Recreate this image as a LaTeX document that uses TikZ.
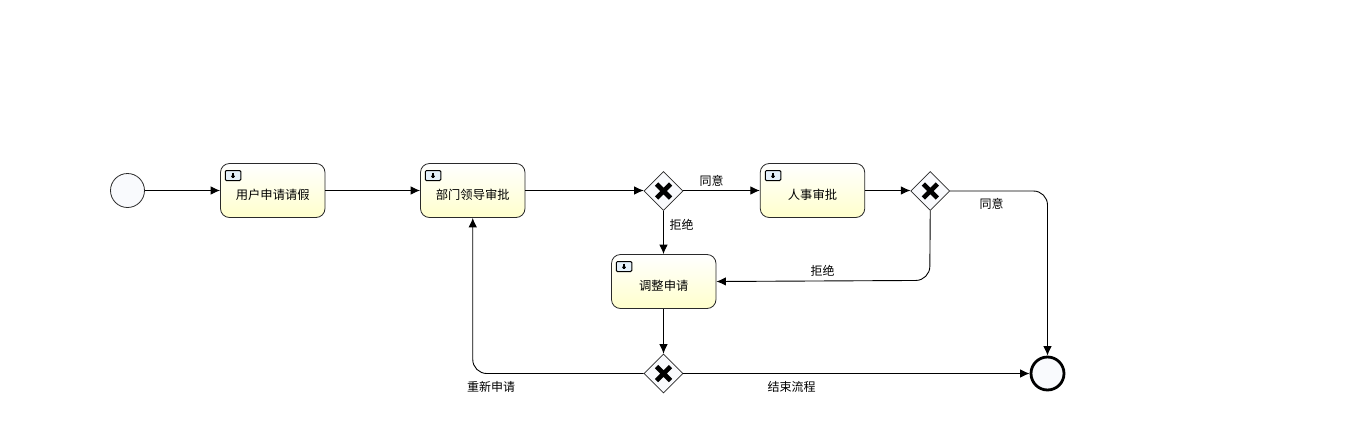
\documentclass[tikz,border=0pt]{standalone}
\usepackage{fontspec}
\setmainfont{Noto Sans CJK SC}
\usetikzlibrary{shapes.geometric,arrows.meta,calc}
\definecolor{evfill}{HTML}{F9FAFD}
\definecolor{taskbot}{HTML}{FFFFCC}
\definecolor{edgegray}{HTML}{2A2A2A}
\definecolor{iconfill}{HTML}{E4F0FA}
\newcommand{\tasktext}[1]{\raisebox{-8.5pt}[0pt][0pt]{#1}}
\tikzset{
  x=1pt,y=-1pt,
  startev/.style={circle,draw=edgegray,line width=0.8pt,fill=evfill,minimum size=34pt,inner sep=0pt},
  endev/.style={circle,draw=black,line width=2.8pt,fill=evfill,minimum size=33pt,inner sep=0pt},
  taskbox/.style={rectangle,rounded corners=9pt,draw=edgegray,line width=0.8pt,top color=white,bottom color=taskbot,minimum width=104.5pt,minimum height=54pt,inner sep=0pt,font=\fontsize{12.3}{12.3}\selectfont},
  gate/.style={diamond,draw=edgegray,line width=0.6pt,fill=evfill,minimum width=39pt,minimum height=39pt,inner sep=0pt,
    path picture={\draw[line width=4.6pt,black] ($(path picture bounding box.center)+(-7,-7)$) -- ($(path picture bounding box.center)+(7,7)$) ($(path picture bounding box.center)+(-7,7)$) -- ($(path picture bounding box.center)+(7,-7)$);}},
  flow/.style={draw=black,line width=0.9pt,-{Latex[length=9.5pt,width=8.5pt]}},
  flowlabel/.style={inner sep=0pt,font=\fontsize{12}{12}\selectfont},
  iconbox/.style={rectangle,rounded corners=1.2pt,draw=black,line width=1pt,fill=iconfill,minimum width=15.5pt,minimum height=10pt,inner sep=0pt,
    path picture={\fill[black] ($(path picture bounding box.center)+(-2.6,0)$) -- ($(path picture bounding box.center)+(2.6,0)$) -- ($(path picture bounding box.center)+(0,3.2)$) -- cycle;
    \draw[black,line width=1.4pt] ($(path picture bounding box.center)+(0,-3)$) -- ($(path picture bounding box.center)+(0,0.5)$);}}
}
\begin{document}
\begin{tikzpicture}
\useasboundingbox (0,0) rectangle (1361,437);
\fill[white] (0,0) rectangle (1361,437);
\node[startev] (start) at (127.5,190.5) {};
\node[taskbox] (t1) at (272.75,190.5) {\tasktext{用户申请请假}};
\node[taskbox] (t2) at (472.75,190.5) {\tasktext{部门领导审批}};
\node[taskbox] (t3) at (812.5,190.5) {\tasktext{人事审批}};
\node[taskbox] (t4) at (663.75,281.5) {\tasktext{调整申请}};
\node[iconbox] (i1) at (233,175.5) {};
\node[iconbox] (i2) at (433,175.5) {};
\node[iconbox] (i3) at (773,175.5) {};
\node[iconbox] (i4) at (624,266.5) {};
\node[gate] (g1) at (663.5,191) {};
\node[gate] (g2) at (930.25,191) {};
\node[gate] (g3) at (663.5,373.5) {};
\node[endev] (end) at (1047.5,373.5) {};
\coordinate (bend) at (929.75,280.4);
\draw[flow] (start) -- (t1);
\draw[flow] (t1) -- (t2);
\draw[flow] (t2.east) -- (t2.east -| g1.west);
\draw[flow] (g1.east |- t3.west) -- (t3.west);
\draw[flow] (t3.east) -- (t3.east -| g2.west);
\draw[flow] (g1.south) -- (t4.north -| g1.south);
\draw[flow] (t4.south -| g3.north) -- (g3.north);
\draw[flow] (g3.east) -- (end.west);
\draw[flow,rounded corners=14pt] (g2.east) -| (end.north);
\draw[flow,rounded corners=14pt] (g2.south) -- (bend) -- (t4.east);
\draw[flow,rounded corners=14pt] (g3.west) -| (t2.south);
\node[flowlabel] (l1) at (711.5,180.5) {同意};
\node[flowlabel] (l2) at (681.5,224.5) {拒绝};
\node[flowlabel] (l3) at (991.5,204) {同意};
\node[flowlabel] (l4) at (822.5,270.5) {拒绝};
\node[flowlabel] (l5) at (491,387) {重新申请};
\node[flowlabel] (l6) at (791.5,387) {结束流程};
\end{tikzpicture}
\end{document}
